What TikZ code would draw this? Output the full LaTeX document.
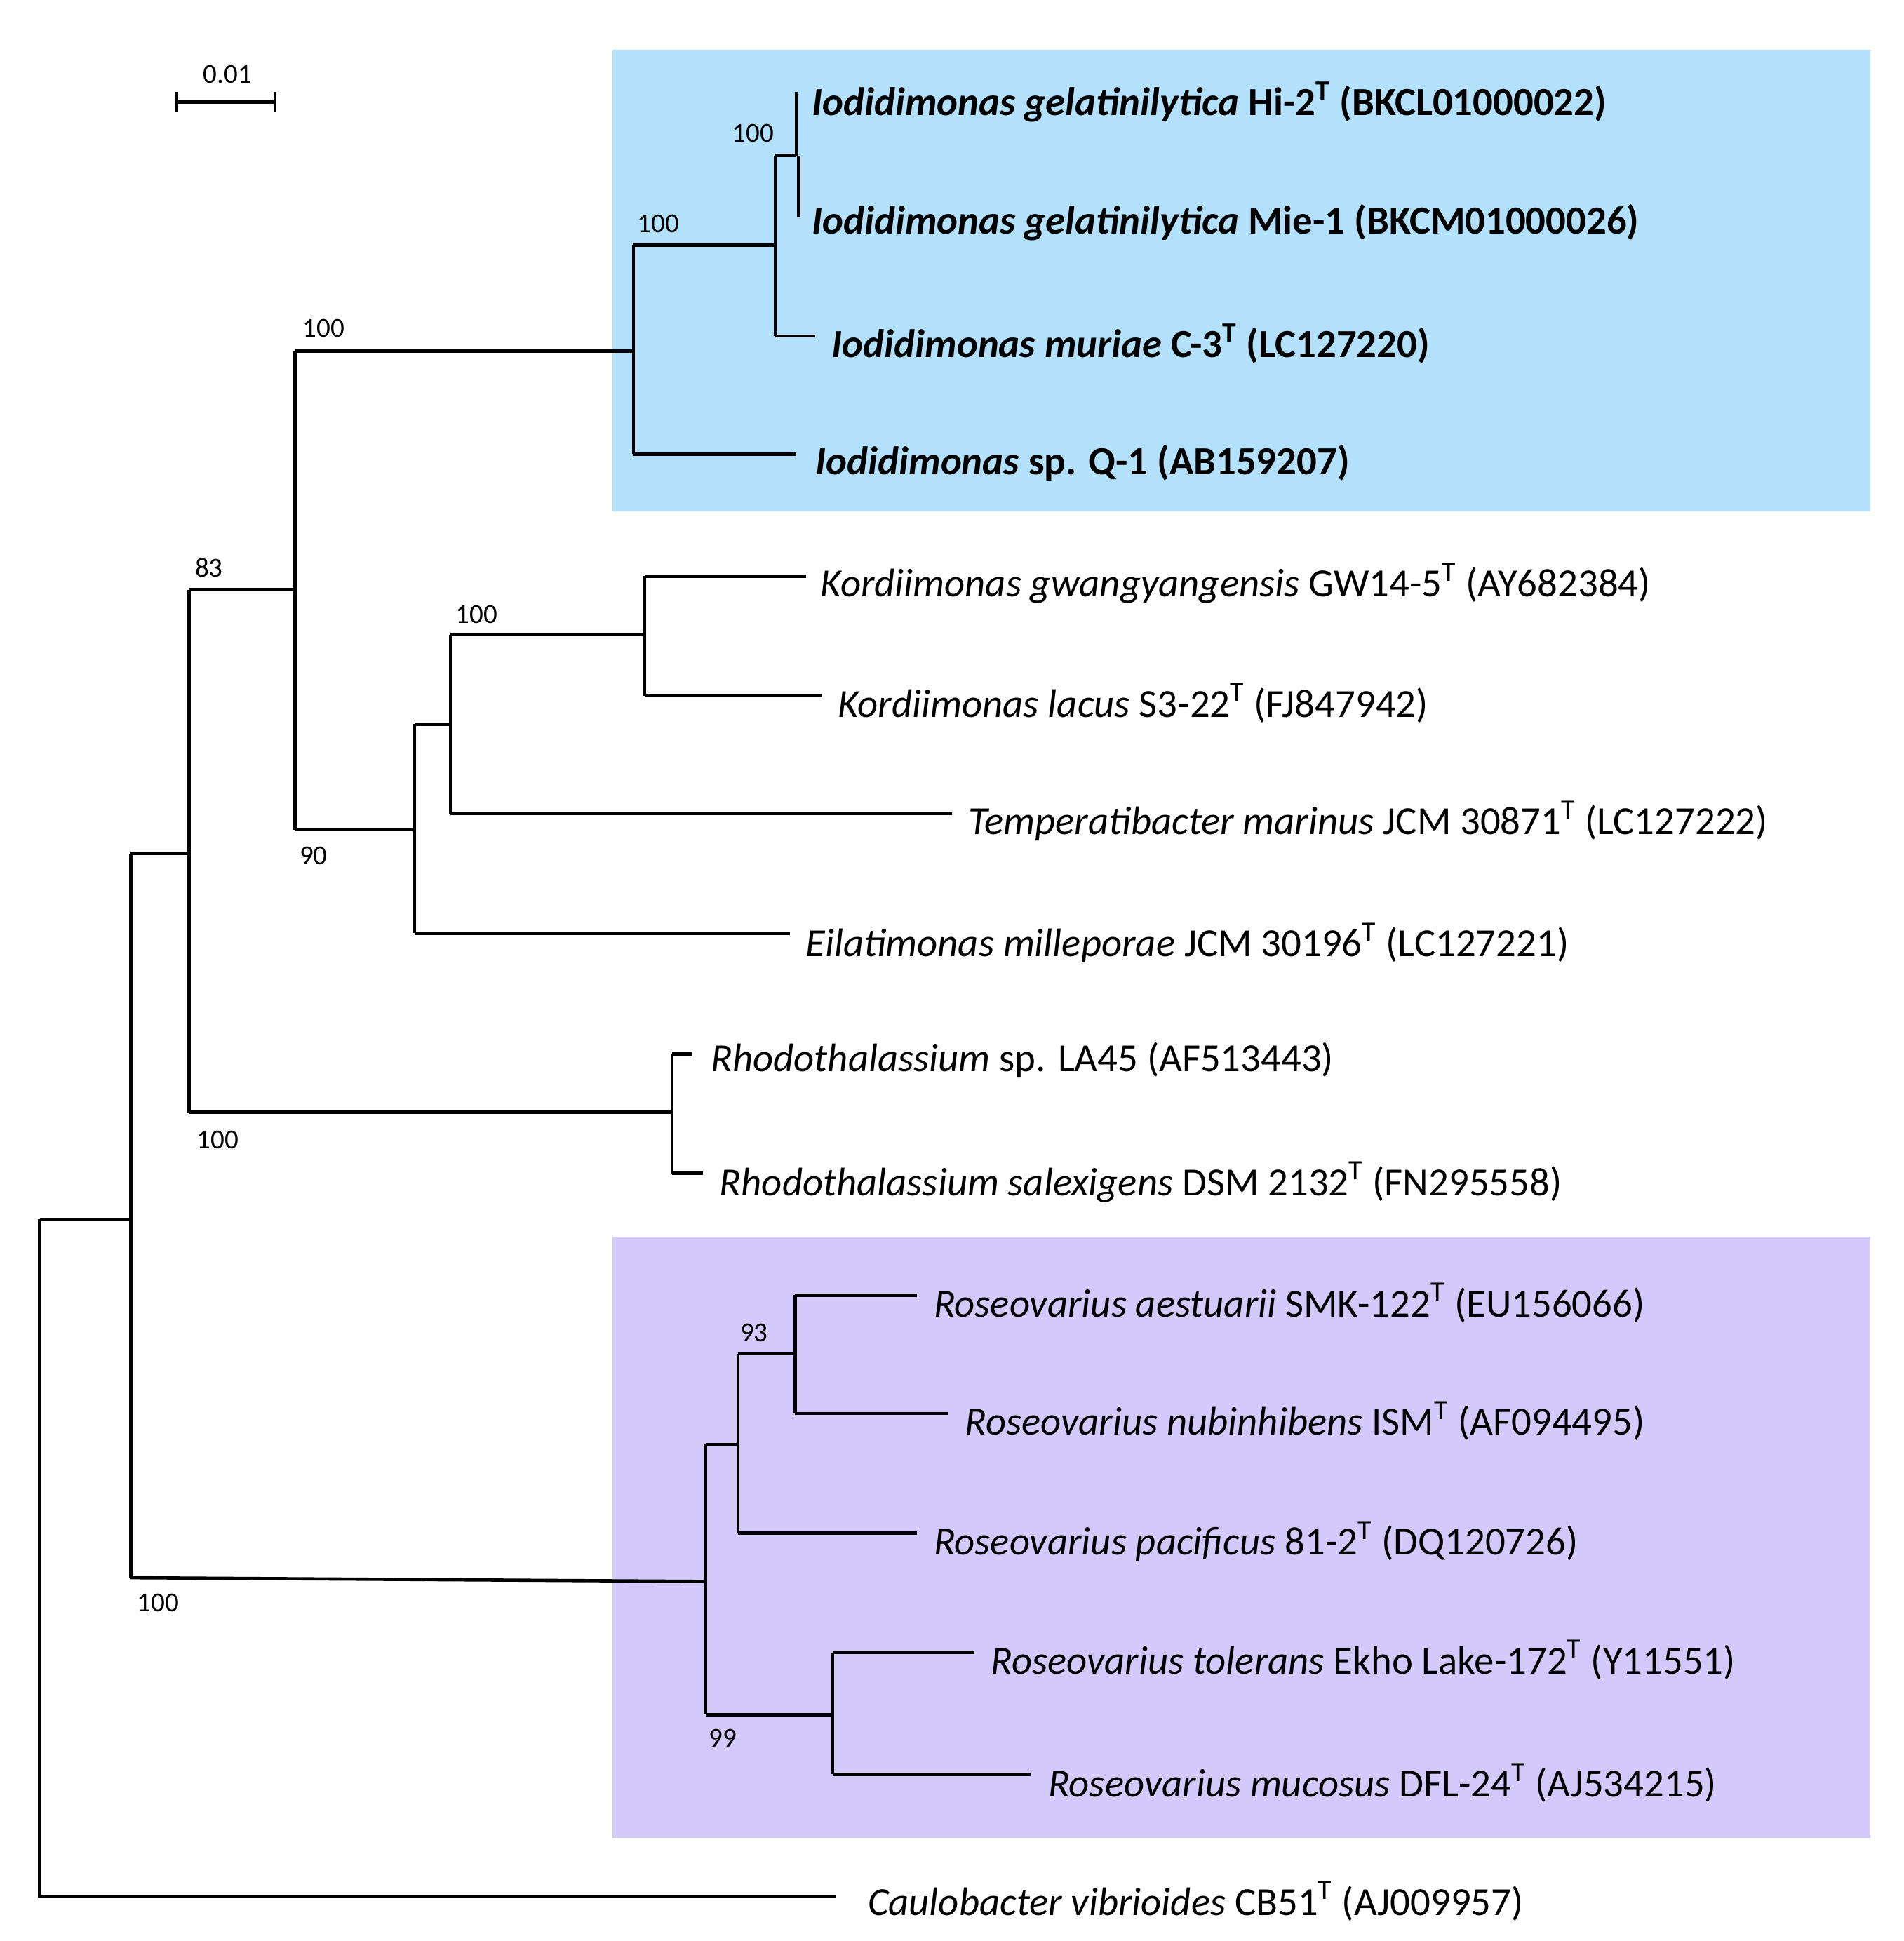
\documentclass[tikz,border=0pt]{standalone}
\usepackage{fontspec}
\setmainfont{Carlito}
\begin{document}
\begin{tikzpicture}[x=0.5pt,y=-0.5pt,
  br/.style={line width=1.3pt},
  leaf/.style={anchor=west,inner sep=0pt,font=\fontsize{16}{19}\selectfont},
  bs/.style={inner sep=0pt,font=\fontsize{11}{13}\selectfont}]
\useasboundingbox (0,0) rectangle (1530,1560);
\fill[fill={rgb,255:red,179;green,224;blue,251}] (492,40) rectangle (1503,411);
\fill[fill={rgb,255:red,211;green,201;blue,251}] (492,994) rectangle (1503,1477);
% scale bar
\draw[br] (142,82) -- (221,82) (142,74) -- (142,90) (221,74) -- (221,90);
\node[bs] (sc) at (183,60) {0.01};
% tree
\draw[br] (32,980) -- (32,1524) -- (672,1524);
\draw[br] (32,980) -- (105,980);
\draw[br] (105,686) -- (105,1268);
\draw[br] (105,686) -- (152,686);
\draw[br] (152,474) -- (152,894);
\draw[br] (152,474) -- (237,474);
\draw[br] (237,282) -- (237,667);
\draw[br] (237,282) -- (509,282);
\draw[br] (509,197) -- (509,365);
\draw[br] (509,197) -- (623,197);
\draw[br] (623,125) -- (623,270);
\draw[br] (623,125) -- (640,125);
\draw[br] (640,74) -- (640,125);
\draw[br] (642,125) -- (642,175);
\draw[br] (623,270) -- (655,270);
\draw[br] (509,365) -- (640,365);
\draw[br] (237,667) -- (333,667);
\draw[br] (333,582) -- (333,750);
\draw[br] (333,582) -- (362,582);
\draw[br] (362,510) -- (362,654);
\draw[br] (362,510) -- (518,510);
\draw[br] (518,463) -- (518,559);
\draw[br] (518,463) -- (648,463);
\draw[br] (518,559) -- (661,559);
\draw[br] (362,654) -- (765,654);
\draw[br] (333,750) -- (635,750);
\draw[br] (152,894) -- (540,894);
\draw[br] (540,847) -- (540,943);
\draw[br] (540,847) -- (556,847);
\draw[br] (540,943) -- (565,943);
\draw[br] (105,1268) -- (567,1271);
\draw[br] (567,1161) -- (567,1378);
\draw[br] (567,1161) -- (593,1161);
\draw[br] (593,1088) -- (593,1232);
\draw[br] (593,1088) -- (639,1088);
\draw[br] (639,1041) -- (639,1136);
\draw[br] (639,1041) -- (737,1041);
\draw[br] (639,1136) -- (762,1136);
\draw[br] (593,1232) -- (737,1232);
\draw[br] (567,1378) -- (669,1378);
\draw[br] (669,1328) -- (669,1426);
\draw[br] (669,1328) -- (783,1328);
\draw[br] (669,1426) -- (828,1426);
% bootstrap
\node[bs] (b1) at (605,107) {100};
\node[bs] (b2) at (529,180) {100};
\node[bs] (b3) at (260,264) {100};
\node[bs] (b4) at (168,456) {83};
\node[bs] (b5) at (383,494) {100};
\node[bs] (b6) at (252,688) {90};
\node[bs] (b7) at (175,916) {100};
\node[bs] (b8) at (606,1071) {93};
\node[bs] (b9) at (127,1288) {100};
\node[bs] (b10) at (581,1397) {99};
% leaves
\node[leaf,font=\fontsize{16}{19}\selectfont\bfseries] (l1) at (652,82) {\textit{Iodidimonas gelatinilytica} Hi-2\textsuperscript{T} (BKCL01000022)};
\node[leaf,font=\fontsize{16}{19}\selectfont\bfseries] (l2) at (652,179) {\textit{Iodidimonas gelatinilytica} Mie-1 (BKCM01000026)};
\node[leaf,font=\fontsize{16}{19}\selectfont\bfseries] (l3) at (668,276) {\textit{Iodidimonas muriae} C-3\textsuperscript{T} (LC127220)};
\node[leaf,font=\fontsize{16}{19}\selectfont\bfseries] (l4) at (655,372) {\textit{Iodidimonas} sp. Q-1 (AB159207)};
\node[leaf] (l5) at (659,469) {\textit{Kordiimonas gwangyangensis} GW14-5\textsuperscript{T} (AY682384)};
\node[leaf] (l6) at (673,565) {\textit{Kordiimonas lacus} S3-22\textsuperscript{T} (FJ847942)};
\node[leaf] (l7) at (778,660) {\textit{Temperatibacter marinus} JCM 30871\textsuperscript{T} (LC127222)};
\node[leaf] (l8) at (647,758) {\textit{Eilatimonas milleporae} JCM 30196\textsuperscript{T} (LC127221)};
\node[leaf] (l9) at (571,852) {\textit{Rhodothalassium} sp. LA45 (AF513443)};
\node[leaf] (l10) at (578,950) {\textit{Rhodothalassium salexigens} DSM 2132\textsuperscript{T} (FN295558)};
\node[leaf] (l11) at (750,1047) {\textit{Roseovarius aestuarii} SMK-122\textsuperscript{T} (EU156066)};
\node[leaf] (l12) at (775,1142) {\textit{Roseovarius nubinhibens} ISM\textsuperscript{T} (AF094495)};
\node[leaf] (l13) at (750,1239) {\textit{Roseovarius pacificus} 81-2\textsuperscript{T} (DQ120726)};
\node[leaf] (l14) at (796,1334) {\textit{Roseovarius tolerans} Ekho Lake-172\textsuperscript{T} (Y11551)};
\node[leaf] (l15) at (842,1433) {\textit{Roseovarius mucosus} DFL-24\textsuperscript{T} (AJ534215)};
\node[leaf] (l16) at (697,1528) {\textit{Caulobacter vibrioides} CB51\textsuperscript{T} (AJ009957)};
\end{tikzpicture}
\end{document}
